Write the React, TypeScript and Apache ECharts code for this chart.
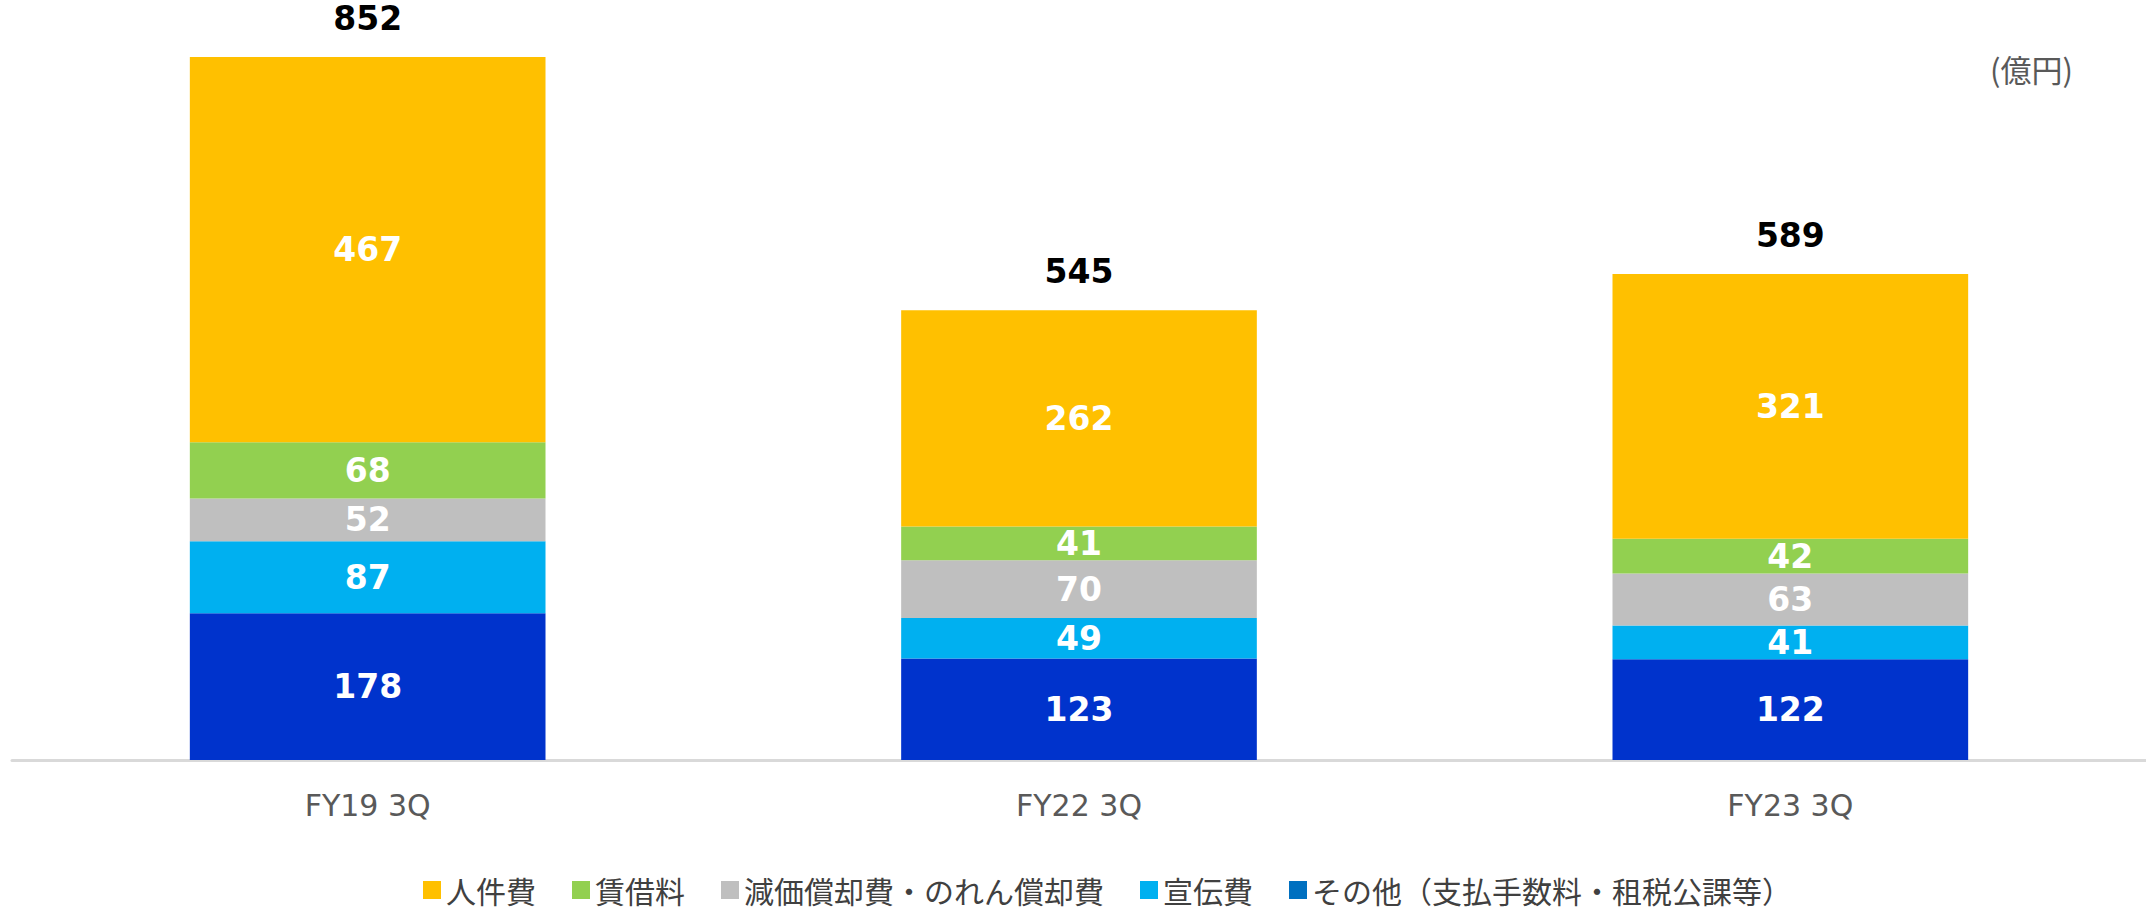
import React, { useEffect, useRef } from "react";
import * as echarts from "echarts";

const categories = ["FY19 3Q", "FY22 3Q", "FY23 3Q"];
const seriesNames = ["人件費", "賃借料", "減価償却費・のれん償却費", "宣伝費", "その他（支払手数料・租税公課等）"];
const personnel = [467, 262, 321];
const rent = [68, 41, 42];
const depreciation = [52, 70, 63];
const advertising = [87, 49, 41];
const other = [178, 123, 122];
const totals = [852, 545, 589];
const unitLabel = "(億円)";

const colors: Record<string, string> = {
  "人件費": "#FFC000",
  "賃借料": "#92D050",
  "減価償却費・のれん償却費": "#BFBFBF",
  "宣伝費": "#00B0F0",
  "その他（支払手数料・租税公課等）": "#0033CC",
};

const valueFont = { color: "#FFFFFF", fontFamily: "DejaVu Sans", fontWeight: "bold" as const, fontSize: 33 };

export default function App() {
  const ref = useRef<HTMLDivElement>(null);
  useEffect(() => {
    document.body.style.margin = "0";
    if (!ref.current) return;
    const chart = echarts.init(ref.current, null, { renderer: "svg" });
    const stackOrder: [string, number[]][] = [
      [seriesNames[4], other],
      [seriesNames[3], advertising],
      [seriesNames[2], depreciation],
      [seriesNames[1], rent],
      [seriesNames[0], personnel],
    ];
    const series: any[] = stackOrder.map(([name, data]) => ({
      name,
      type: "bar",
      stack: "total",
      barWidth: "50%",
      data,
      itemStyle: { color: colors[name] },
      label: { show: true, position: "inside", ...valueFont },
    }));
    series.push({
      name: "合計",
      type: "bar",
      stack: "total",
      barWidth: "50%",
      data: totals.map(() => 0),
      itemStyle: { color: "transparent" },
      label: {
        show: true,
        position: "top",
        distance: 22,
        formatter: (p: any) => String(totals[p.dataIndex]),
        color: "#000000",
        fontFamily: "DejaVu Sans",
        fontWeight: "bold",
        fontSize: 33,
      },
    });
    chart.setOption({
      animation: false,
      backgroundColor: "#FFFFFF",
      grid: { left: 12, right: 0, top: 57, bottom: 154, containLabel: false },
      xAxis: {
        type: "category",
        data: categories,
        axisLine: { show: true, lineStyle: { color: "#D9D9D9", width: 3 } },
        axisTick: { show: false },
        axisLabel: { color: "#595959", fontFamily: "DejaVu Sans", fontSize: 30, margin: 30 },
      },
      yAxis: { type: "value", min: 0, max: 852, show: false, splitLine: { show: false } },
      legend: {
        left: 423,
        top: 874,
        padding: 0,
        itemWidth: 18,
        itemHeight: 18,
        itemGap: 36,
        icon: "rect",
        textStyle: { color: "#404040", fontFamily: "Noto Sans CJK JP", fontSize: 30, lineHeight: 32 },
        data: seriesNames.map((n, i) => (i === 4 ? { name: n, itemStyle: { color: "#0070C0" } } : { name: n })),
      },
      graphic: [
        {
          type: "text",
          right: 73,
          top: 53,
          style: { text: unitLabel, fill: "#595959", font: "31px 'Noto Sans CJK JP'" },
        },
      ],
      series,
    });
    return () => chart.dispose();
  }, []);
  return <div ref={ref} style={{ width: 2146, height: 914 }} />;
}
